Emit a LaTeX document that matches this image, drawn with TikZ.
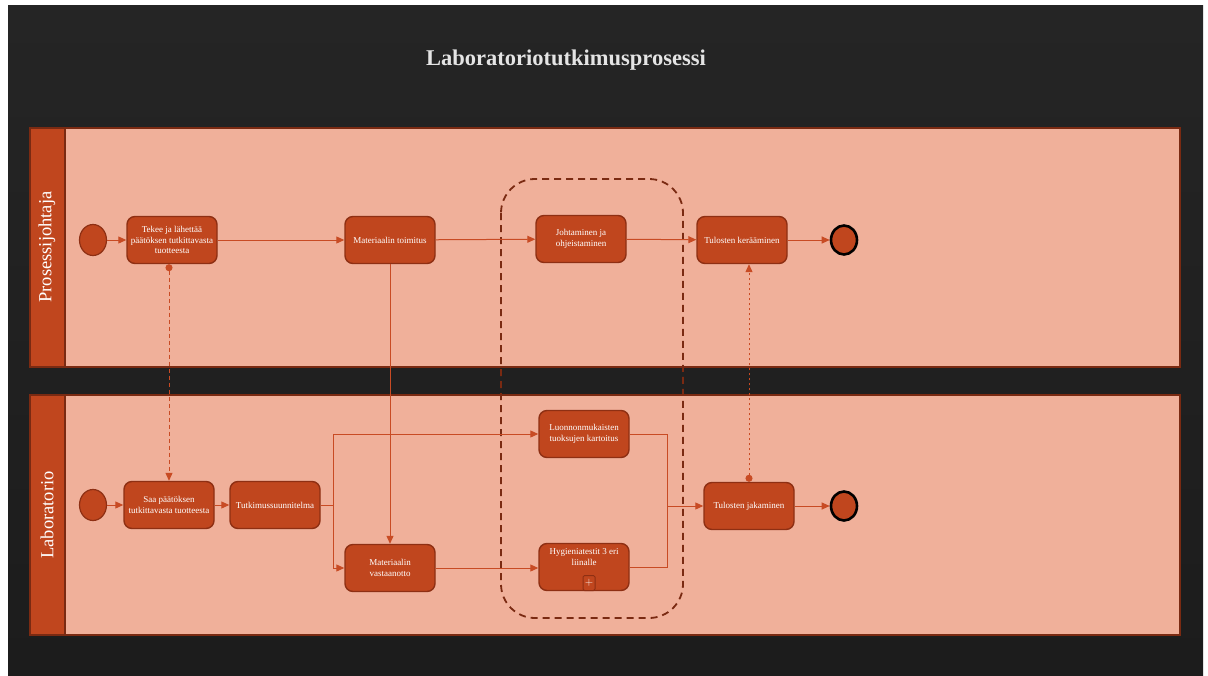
\documentclass[tikz,border=0pt]{standalone}
\usepackage{fontspec}
\setmainfont{Liberation Serif}
\usetikzlibrary{arrows.meta}
\definecolor{bgdark}{HTML}{252525}
\definecolor{bgdarker}{HTML}{1C1C1C}
\definecolor{lanefill}{HTML}{F0B09A}
\definecolor{laneline}{HTML}{7A2A12}
\definecolor{barfill}{HTML}{C0461E}
\definecolor{boxfill}{HTML}{C0461E}
\definecolor{boxline}{HTML}{8E2F13}
\definecolor{flow}{HTML}{C84B24}
\definecolor{grpline}{HTML}{7A2A12}
\definecolor{titlegray}{HTML}{E4E4E4}
\tikzset{
  taskbox/.style={draw=boxline, fill=boxfill, line width=1.4pt, rounded corners=8pt,
    minimum width=90pt, minimum height=47pt, inner sep=2pt, align=center,
    text=white, font=\fontsize{9}{10.5}\selectfont},
  startev/.style={ellipse, draw=boxline, fill=boxfill, line width=1.2pt,
    minimum width=27pt, minimum height=31pt, inner sep=0pt},
  endev/.style={ellipse, draw=black, fill=boxfill, line width=2.6pt,
    minimum width=26pt, minimum height=29pt, inner sep=0pt},
  flowarrow/.style={draw=flow, line width=1pt, -{Triangle[length=8pt,width=7pt]}},
  flowline/.style={draw=flow, line width=1pt},
  msgflow/.style={draw=flow, line width=1pt, dash pattern=on 4pt off 3pt,
    {Circle[length=7pt]}-{Triangle[length=8pt,width=7pt]}},
  lanelabel/.style={rotate=90, text=white, font=\fontsize{18.5}{20}\selectfont},
}
\usetikzlibrary{shapes.geometric}
\begin{document}
\begin{tikzpicture}[x=1pt,y=-1pt]
\useasboundingbox (0,0) rectangle (1208,675);
\fill[white] (0,0) rectangle (1208,675);
\shade[top color=bgdark, bottom color=bgdarker] (8,5) rectangle (1203,675);

% title
\node[text=titlegray, font=\bfseries\fontsize{22.5}{26}\selectfont] (title) at (566,60) {Laboratoriotutkimusprosessi};

% swimlanes
\fill[lanefill] (30,128) rectangle (1180,367);
\fill[barfill] (30,128) rectangle (65,367);
\draw[laneline, line width=1.5pt] (30,128) rectangle (1180,367) (65,128) -- (65,367);
\node[lanelabel] (laneA) at (47,247) {Prosessijohtaja};

\fill[lanefill] (30,395) rectangle (1180,635);
\fill[barfill] (30,395) rectangle (65,635);
\draw[laneline, line width=1.5pt] (30,395) rectangle (1180,635) (65,395) -- (65,635);
\node[lanelabel] (laneB) at (47,515) {Laboratorio};

% grouping frame
\draw[grpline, line width=1.8pt, dash pattern=on 7pt off 5pt, rounded corners=34pt]
  (501,179) rectangle (683,618);

% upper lane
\node[startev] (s1) at (93,240) {};
\node[taskbox] (b1) at (172,240) {Tekee ja lähettää\\päätöksen tutkittavasta\\tuotteesta};
\node[taskbox] (b2) at (390,240) {Materiaalin toimitus};
\node[taskbox] (b3) at (581,239) {Johtaminen ja\\ohjeistaminen};
\node[taskbox] (b4) at (742,240) {Tulosten kerääminen};
\node[endev] (e1) at (844,240) {};

% lower lane
\node[startev] (s2) at (93,505) {};
\node[taskbox] (saa) at (169,505) {Saa päätöksen\\tutkittavasta tuotteesta};
\node[taskbox] (tu) at (275,505) {Tutkimussuunnitelma};
\node[taskbox] (mv) at (390,568) {Materiaalin\\vastaanotto};
\node[taskbox] (lu) at (584,434) {Luonnonmukaisten\\tuoksujen kartoitus};
\node[taskbox] (hy) at (584,567) {};
\node[text=white, align=center, font=\fontsize{9}{10.5}\selectfont] (hyt) at (584,557) {Hygieniatestit 3 eri\\liinalle};
\node[draw=boxline, fill=boxfill, line width=1pt, rounded corners=1.5pt,
  minimum width=12pt, minimum height=15pt, inner sep=0pt, text=white,
  font=\sffamily\fontsize{11}{11}\selectfont] (plus) at (589,583) {+};
\node[taskbox] (tj) at (749,506) {Tulosten jakaminen};
\node[endev] (e2) at (844,506) {};

% sequence flows, upper lane
\draw[flowarrow] (s1) -- (b1);
\draw[flowarrow] (b1) -- (b2);
\draw[flowarrow] (b2) -- (b3);
\draw[flowarrow] (b3) -- (b4);
\draw[flowarrow] (b4) -- (e1);

% sequence flows, lower lane
\draw[flowarrow] (s2) -- (saa);
\draw[flowarrow] (saa) -- (tu);
\draw[flowline] (tu.east) -- ++(13,0) coordinate (split);
\draw[flowarrow] (split) |- (lu.west);
\draw[flowarrow] (split) |- (mv.west);
\draw[flowarrow] (mv.east) -- (hy.west |- mv.east);
\coordinate (merge) at (667,506);
\draw[flowline] (lu.east) -| (merge);
\draw[flowline] (hy.east) -| (merge);
\draw[flowarrow] (merge) -- (tj.west);
\draw[flowarrow] (tj) -- (e2);

% flow across lanes
\draw[flowarrow] (b2.south) -- (mv.north);

% message flows
\draw[msgflow] (saa.north |- b1.south) -- (saa.north);
\draw[msgflow, dash pattern=on 2.5pt off 2.5pt] (tj.north) -- (tj.north |- b4.south);
\end{tikzpicture}
\end{document}
